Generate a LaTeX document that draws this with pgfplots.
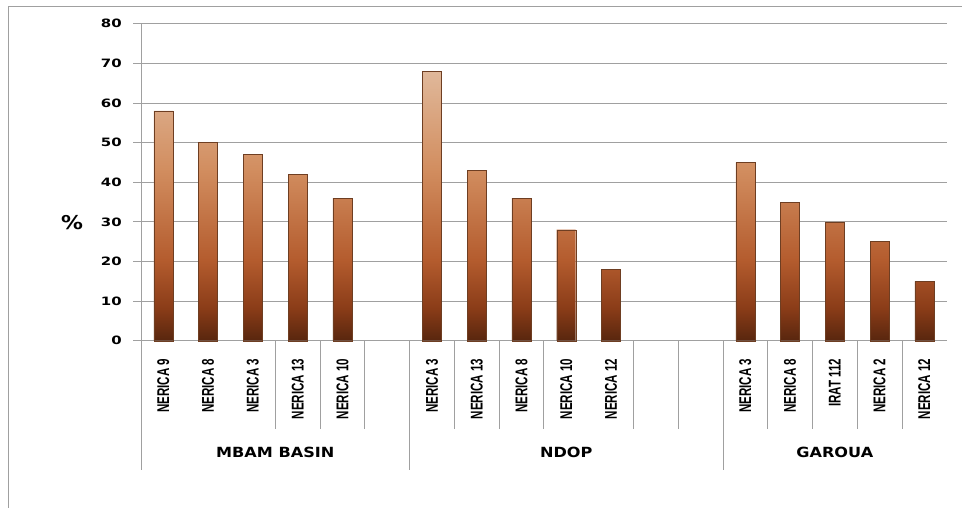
\documentclass[border=0pt]{standalone}
\usepackage{fontspec}
\usepackage{pgfplots}
\pgfplotsset{compat=1.18}
\setmainfont{DejaVu Sans}
\newfontfamily\tickfont[FakeStretch=1.3]{DejaVu Sans}
\newfontfamily\grpfont[FakeStretch=1.15]{DejaVu Sans}
\newfontfamily\labfont[FakeStretch=0.68]{Liberation Sans}
\definecolor{gridgray}{RGB}{160,160,160}
\definecolor{baredge}{RGB}{110,62,34}
\pgfdeclareverticalshading{barshade}{100bp}{%
  color(0bp)=(rgb,255:red,88;green,38;blue,14);
  color(25bp)=(rgb,255:red,88;green,38;blue,14);
  color(31bp)=(rgb,255:red,138;green,60;blue,24);
  color(40bp)=(rgb,255:red,180;green,92;blue,46);
  color(57bp)=(rgb,255:red,210;green,142;blue,96);
  color(75bp)=(rgb,255:red,224;green,184;blue,154);
  color(100bp)=(rgb,255:red,224;green,184;blue,154)}
\begin{document}
\begin{tikzpicture}
\path[use as bounding box] (0,0) rectangle (962bp,508bp);
\draw[gridgray, line width=0.9bp] (8bp,0) -- (8bp,502bp) -- (962bp,502bp);
\begin{axis}[
  at={(141bp,167.3bp)}, anchor=south west,
  scale only axis, width=805.7bp, height=317bp,
  xmin=-0.5, xmax=17.5, ymin=0, ymax=80,
  ytick={0,10,...,80},
  ymajorgrids, grid style={gridgray, line width=0.8bp},
  axis x line*=bottom, axis y line*=left,
  axis line style={gridgray, line width=0.8bp},
  tick align=outside, major tick length=8bp,
  ytick style={gridgray, line width=0.8bp},
  xtick style={draw=none},
  /pgf/number format/assume math mode=true,
  yticklabel style={font=\tickfont\bfseries\fontsize{11.5bp}{12bp}\selectfont, inner sep=0pt, xshift=-11bp},
  xtick={0,...,17},
  xticklabels={NERICA 9,NERICA 8,NERICA 3,NERICA 13,NERICA 10,{},NERICA 3,NERICA 13,NERICA 8,NERICA 10,NERICA 12,{},{},NERICA 3,NERICA 8,IRAT 112,NERICA 2,NERICA 12},
  xticklabel style={font=\labfont\bfseries\fontsize{17bp}{18bp}\selectfont, yshift=-10bp, rotate=90, anchor=east, inner sep=0pt},
  clip=false,
]
\addplot[ybar, bar width=19bp, bar shift=0pt, draw=baredge, line width=0.4bp,
  shading=barshade]
coordinates {
 (0,58) (1,50) (2,47) (3,42) (4,36)
 (6,68) (7,43) (8,36) (9,28) (10,18)
 (13,45) (14,35) (15,30) (16,25) (17,15)
};
% category separators
\pgfplotsinvokeforeach{2.5,3.5,4.5,6.5,7.5,8.5,10.5,11.5,13.5,14.5,15.5,16.5}{
  \draw[gridgray, line width=0.8bp] (axis cs:#1,0) -- ([yshift=-88bp]axis cs:#1,0);
}
\pgfplotsinvokeforeach{-0.5,5.5,12.5}{
  \draw[gridgray, line width=0.8bp] (axis cs:#1,0) -- ([yshift=-129bp]axis cs:#1,0);
}
\node[font=\grpfont\bfseries\fontsize{14bp}{15bp}\selectfont] at ([yshift=-112bp]axis cs:2.5,0) {MBAM BASIN};
\node[font=\grpfont\bfseries\fontsize{14bp}{15bp}\selectfont] at ([yshift=-112bp]axis cs:9,0) {NDOP};
\node[font=\grpfont\bfseries\fontsize{14bp}{15bp}\selectfont] at ([yshift=-112bp]axis cs:15,0) {GAROUA};
\node[font=\grpfont\bfseries\fontsize{19bp}{20bp}\selectfont] at ([xshift=-69bp]axis cs:-0.5,29.8) {\%};
\end{axis}
\end{tikzpicture}
\end{document}
